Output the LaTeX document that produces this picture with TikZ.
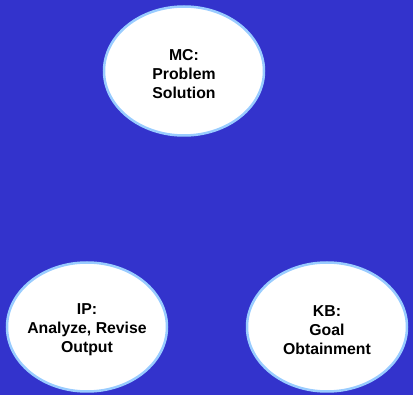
\documentclass[tikz,border=0pt]{standalone}
\usepackage{fontspec}
\setmainfont{Liberation Sans}
\usetikzlibrary{shapes.geometric}
\definecolor{bgblue}{HTML}{3333CC}
\definecolor{rimblue}{HTML}{99CCFF}
\tikzset{
  bubble/.style={draw=rimblue, line width=2.5pt, fill=white, ellipse,
    minimum width=160pt, minimum height=129pt, inner sep=0pt},
  bubbletext/.style={align=center, inner sep=0pt,
    font=\fontsize{15.8}{19.2}\selectfont\bfseries, text=black}
}
\begin{document}
\begin{tikzpicture}[x=1pt,y=-1pt]
\fill[bgblue] (0,0) rectangle (413,395);
\useasboundingbox (0,0) rectangle (413,395);
\node[bubble] (mc) at (184,71) {};
\node[bubble] (ip) at (87,327) {};
\node[bubble] (kb) at (327,327) {};
\node[bubbletext] (mct) at ([yshift=-3pt]mc.center) {MC:\\Problem\\Solution};
\node[bubbletext] (ipt) at ([yshift=-3pt]ip.center) {IP:\\Analyze, Revise\\Output};
\node[bubbletext] (kbt) at ([yshift=-3pt]kb.center) {KB:\\Goal\\Obtainment};
\end{tikzpicture}
\end{document}
